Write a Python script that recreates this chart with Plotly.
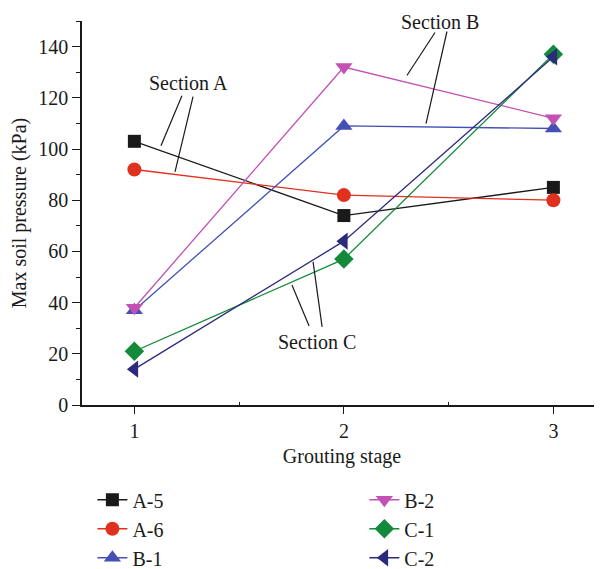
import plotly.graph_objects as go

stages = [1, 2, 3]
series_names = ["A-5", "A-6", "B-1", "B-2", "C-1", "C-2"]
a5 = [103, 74, 85]
a6 = [92, 82, 80]
b1 = [37, 109, 108]
b2 = [38, 132, 112]
c1 = [21, 57, 137]
c2 = [14, 64, 136]
values = [a5, a6, b1, b2, c1, c2]
colors = ["#1a1a1a", "#e0301e", "#4450b4", "#c350b4", "#138a3a", "#2b2a7c"]
symbols = ["square", "circle", "triangle-up", "triangle-down", "diamond", "triangle-left"]
sizes = [13, 14, 15, 15, 15, 15]
legends = ["legend", "legend", "legend", "legend2", "legend2", "legend2"]

FONT = "Liberation Serif"
FS = 20

fig = go.Figure()
for name, vals, col, sym, sz, lg in zip(series_names, values, colors, symbols, sizes, legends):
    fig.add_trace(go.Scatter(
        x=stages, y=vals, name=name, mode="lines+markers",
        line=dict(color=col, width=1.3),
        marker=dict(symbol=sym, size=sz, color=col),
        legend=lg, legendgroup=name,
    ))

# Section labels and leader lines (data coordinates)
labels = [
    ("Section A", 1.256, 125.9, [((1.227, 120.8), (1.127, 101.3)), ((1.280, 120.5), (1.194, 91.1))]),
    ("Section B", 2.459, 149.8, [((2.435, 145.5), (2.301, 128.7)), ((2.492, 145.9), (2.392, 109.9))]),
    ("Section C", 1.874, 24.6, [((1.752, 46.9), (1.834, 30.9)), ((1.853, 55.9), (1.896, 30.5))]),
]
for text, tx, ty, segs in labels:
    fig.add_annotation(x=tx, y=ty, text=text, showarrow=False,
                       font=dict(family=FONT, size=FS, color="#1a1a1a"))
    for (x0, y0), (x1, y1) in segs:
        fig.add_shape(type="line", x0=x0, y0=y0, x1=x1, y1=y1,
                      line=dict(color="#1a1a1a", width=1.2))

fig.update_layout(
    width=602, height=569,
    margin=dict(l=74, r=8, t=13, b=172, autoexpand=False),
    plot_bgcolor="white", paper_bgcolor="white",
    font=dict(family=FONT, size=FS, color="#1a1a1a"),
    showlegend=True,
    legend=dict(x=0.02, y=-0.196, xanchor="left", yanchor="top",
                font=dict(family=FONT, size=FS), tracegroupgap=0,
                bgcolor="rgba(0,0,0,0)"),
    legend2=dict(x=0.543, y=-0.196, xanchor="left", yanchor="top",
                 font=dict(family=FONT, size=FS), tracegroupgap=0,
                 bgcolor="rgba(0,0,0,0)"),
)
fig.update_xaxes(
    range=[0.75, 3.232], tickvals=stages, ticktext=["1", "2", "3"],
    showline=True, linecolor="#1a1a1a", linewidth=1.5,
    ticks="outside", ticklen=7, tickwidth=1.2, tickcolor="#1a1a1a",
    minor=dict(tickvals=[1.5, 2.5], ticks="inside", ticklen=3, tickcolor="#1a1a1a"),
    showgrid=False, zeroline=False, automargin=False,
    title=dict(text="Grouting stage", font=dict(family=FONT, size=FS), standoff=8),
    tickfont=dict(family=FONT, size=FS),
)
fig.update_yaxes(
    range=[0, 150], dtick=20, tick0=0,
    showline=True, linecolor="#1a1a1a", linewidth=1.5,
    ticks="outside", ticklen=8, tickwidth=1.2, tickcolor="#1a1a1a",
    minor=dict(dtick=10, ticks="outside", ticklen=4, tickcolor="#1a1a1a"),
    showgrid=False, zeroline=False, automargin=False,
    title=dict(text="Max soil pressure (kPa)", font=dict(family=FONT, size=FS), standoff=8),
    tickfont=dict(family=FONT, size=FS),
)

fig.write_html("out.html")
